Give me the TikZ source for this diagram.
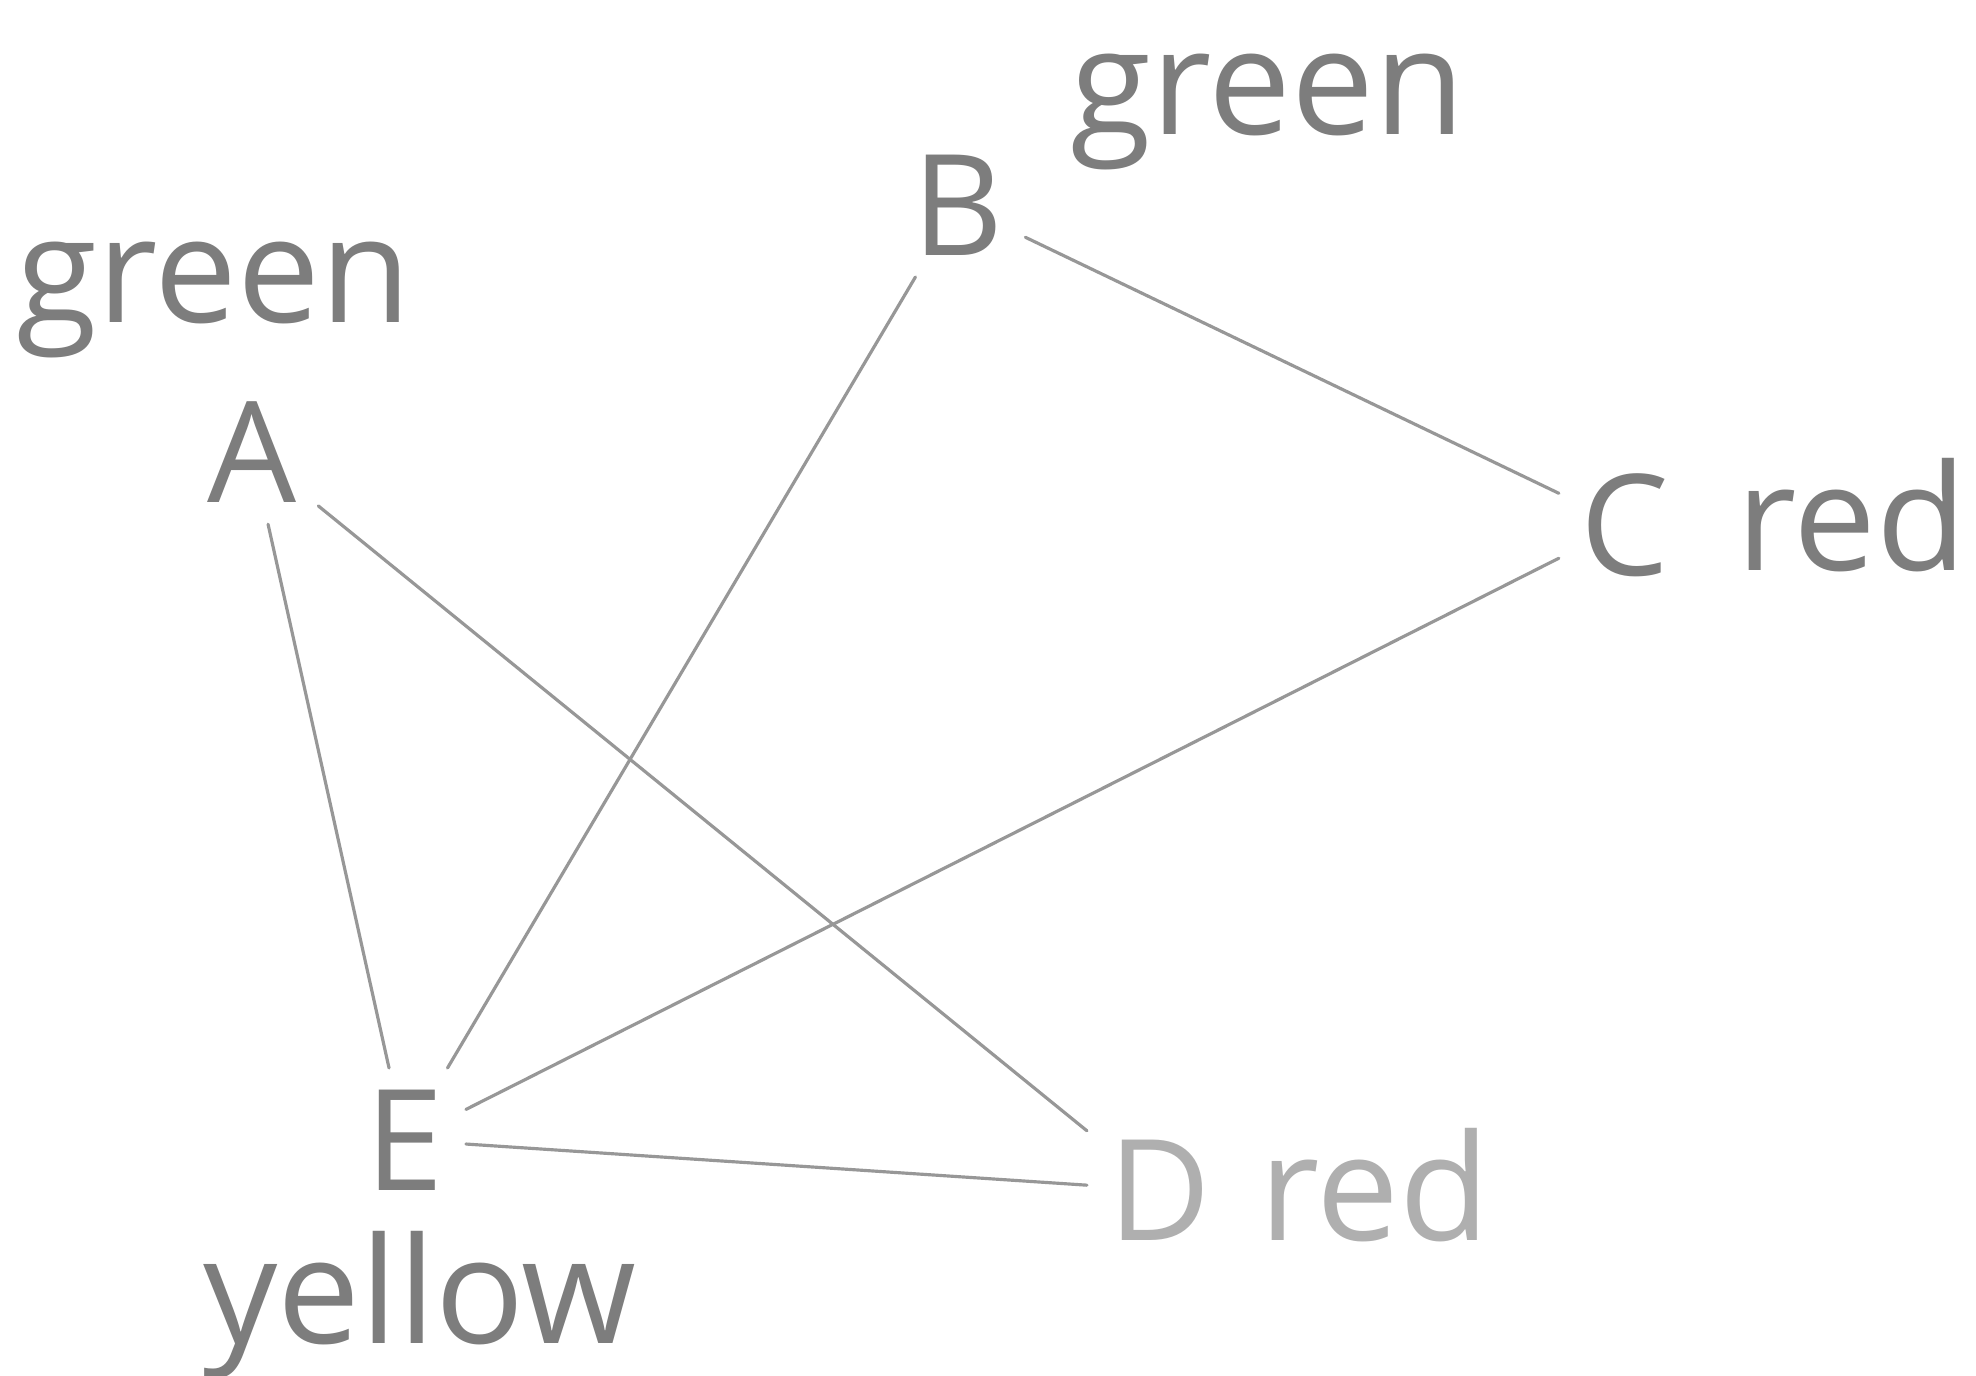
\documentclass[tikz,border=0pt]{standalone}
\usepackage{fontspec}
\setmainfont{Open Sans}
\definecolor{ink}{RGB}{125,125,125}
\definecolor{faint}{RGB}{175,175,175}
\begin{document}
\begin{tikzpicture}[x=0.01cm,y=-0.01cm,
  vtx/.style={text=ink,font=\fontsize{40}{48}\selectfont,inner sep=6pt},
  lbl/.style={text=ink,font=\fontsize{42}{50}\selectfont,inner sep=0pt},
  edge/.style={draw=ink!80,line width=0.9pt,line cap=round}]
\useasboundingbox (0,0) rectangle (1976,1376);
\fill[white] (0,0) rectangle (1976,1376);
\node[vtx] (A) at (252,452) {A};
\node[vtx] (B) at (958,205) {B};
\node[vtx] (C) at (1625,525) {C};
\node[vtx,text=faint] (D) at (1160,1190) {D};
\node[vtx] (E) at (405,1140) {E};
\node[lbl] (lA) at (214,300) {green};
\node[lbl] (lB) at (1268,112) {green};
\node[lbl] (lC) at (1852,515) {red};
\node[lbl,text=faint] (lD) at (1375,1185) {red};
\node[lbl] (lE) at (420,1305) {yellow};
\draw[edge] (A) -- (E);
\draw[edge] (A) -- (D);
\draw[edge] (B) -- (E);
\draw[edge] (B) -- (C);
\draw[edge] (C) -- (E);
\draw[edge] (E) -- (D);
\end{tikzpicture}
\end{document}
